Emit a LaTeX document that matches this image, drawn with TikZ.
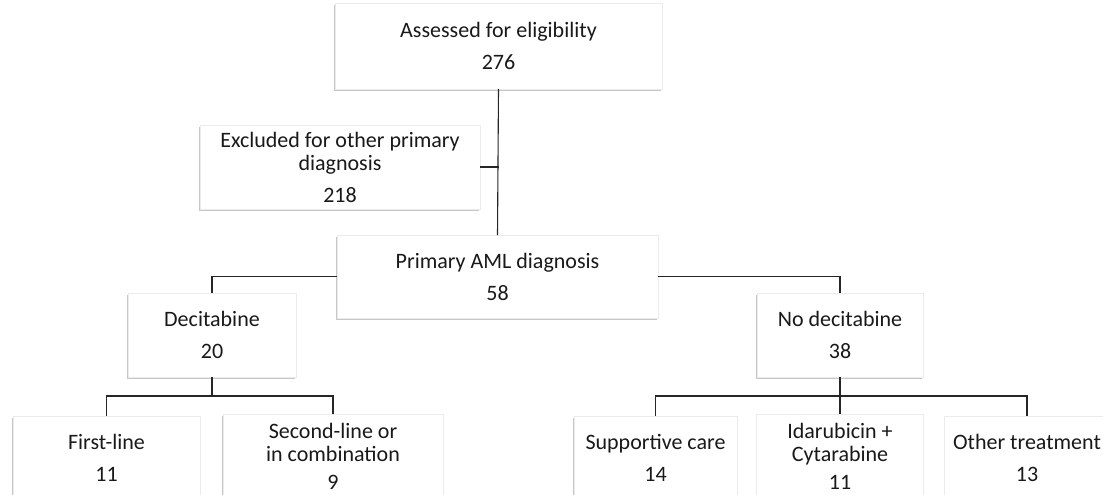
\documentclass[tikz,border=0pt]{standalone}
\usepackage{fontspec}
\setmainfont{Carlito}
\usetikzlibrary{shadows,calc}
\begin{document}
\begin{tikzpicture}[x=1pt,y=-1pt,
  box/.style={rectangle, fill=white, draw=black!8, line width=0.6pt,
    outer sep=0pt, inner sep=2pt, align=center, text=black!90,
    font=\fontsize{22}{23}\selectfont,
    drop shadow={shadow xshift=-0.6pt, shadow yshift=-1.8pt, opacity=0.22, fill=black}},
  conn/.style={draw=black!85, line width=1.1pt}]
\useasboundingbox (0,0) rectangle (1103,495);
\begin{scope}
\clip (0,0) rectangle (1103,495);
\node[box, minimum width=327, minimum height=86] (top) at (498.5,46) {Assessed for eligibility\\[9pt]276};
\node[box, minimum width=280, minimum height=84] (excl) at (340,167) {Excluded for other primary\\diagnosis\\[9pt]218};
\node[box, minimum width=321, minimum height=83] (aml) at (497.5,276.5) {Primary AML diagnosis\\[9pt]58};
\node[box, minimum width=168, minimum height=84] (dec) at (212,335) {Decitabine\\[9pt]20};
\node[box, minimum width=166, minimum height=84] (nodec) at (840,335) {No decitabine\\[9pt]38};
\node[box, minimum width=187, minimum height=84] (first) at (106.5,458) {First-line\\[9pt]11};
\node[box, minimum width=220, minimum height=84] (second) at (333,456) {Second-line or\\in combination\\[5pt]9};
\node[box, minimum width=163, minimum height=84] (supp) at (655.5,458) {Supportive care\\[9pt]14};
\node[box, minimum width=167, minimum height=84] (ida) at (840,456) {Idarubicin +\\Cytarabine\\[5pt]11};
\node[box, minimum width=165, minimum height=84] (other) at (1027,458) {Other treatment\\[9pt]13};

\draw[conn] (top.south) -- (aml.north);
\draw[conn] (excl.east) -- (excl.east -| top.south);
\draw[conn] (aml.west) -| (dec.north);
\draw[conn] (aml.east) -| (nodec.north);

\coordinate (dj) at ($(dec.south)+(0,19)$);
\draw[conn] (dec.south) -- (dj);
\draw[conn] (first.north) -- (first.north |- dj) -- (second.north |- dj) -- (second.north);

\coordinate (nj) at ($(nodec.south)+(0,19)$);
\draw[conn] (nodec.south) -- (ida.north);
\draw[conn] (supp.north) -- (supp.north |- nj) -- (other.north |- nj) -- (other.north);
\end{scope}
\end{tikzpicture}
\end{document}
